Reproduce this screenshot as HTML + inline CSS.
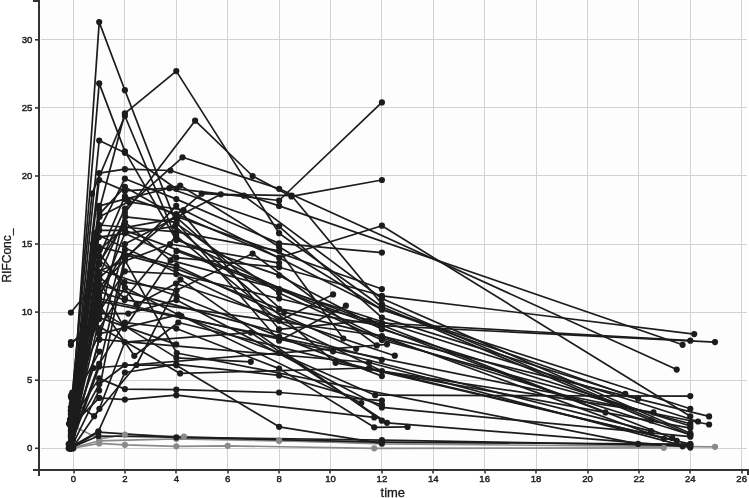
<!DOCTYPE html>
<html><head><meta charset="utf-8"><style>
html,body{margin:0;padding:0;background:#fff;}
svg{display:block;will-change:transform;font-family:"Liberation Sans",sans-serif;}
</style></head><body>
<svg width="749" height="498" viewBox="0 0 749 498">
<rect x="40" y="0" width="707" height="469" fill="#fdfdfd"/>
<g stroke="#d2d2d2" stroke-width="1"><line x1="73.5" y1="0" x2="73.5" y2="469" /><line x1="124.5" y1="0" x2="124.5" y2="469" /><line x1="176.5" y1="0" x2="176.5" y2="469" /><line x1="227.5" y1="0" x2="227.5" y2="469" /><line x1="279.5" y1="0" x2="279.5" y2="469" /><line x1="330.5" y1="0" x2="330.5" y2="469" /><line x1="381.5" y1="0" x2="381.5" y2="469" /><line x1="433.5" y1="0" x2="433.5" y2="469" /><line x1="484.5" y1="0" x2="484.5" y2="469" /><line x1="536.5" y1="0" x2="536.5" y2="469" /><line x1="587.5" y1="0" x2="587.5" y2="469" /><line x1="638.5" y1="0" x2="638.5" y2="469" /><line x1="690.5" y1="0" x2="690.5" y2="469" /><line x1="741.5" y1="0" x2="741.5" y2="469" /><line x1="41" y1="448.5" x2="747" y2="448.5" /><line x1="41" y1="380.5" x2="747" y2="380.5" /><line x1="41" y1="312.5" x2="747" y2="312.5" /><line x1="41" y1="244.5" x2="747" y2="244.5" /><line x1="41" y1="175.5" x2="747" y2="175.5" /><line x1="41" y1="107.5" x2="747" y2="107.5" /><line x1="41" y1="39.5" x2="747" y2="39.5" /></g>
<g fill="none" stroke="#1c1c1c" stroke-width="1.7" stroke-linejoin="round" stroke-linecap="round"><polyline points="69.6,424.3 99.2,438.8 124.9,434.7 184.0,436.5 279.1,440.4 381.9,443.9 715.0,446.8" stroke="#8a8a8a" /><polyline points="70.9,448.3 99.2,443.4 124.9,444.8 176.3,446.3 227.7,445.8 374.2,448.3 663.8,447.8" stroke="#8a8a8a" /><polyline points="70.9,448.3 99.2,440.8 176.3,438.8 279.1,440.8 381.9,442.9" stroke="#8a8a8a" /><polyline points="70.9,432.0 99.2,22.1 124.9,90.2 176.3,223.6 279.1,293.1 381.9,340.0 690.3,423.8" stroke="#1c1c1c" /><polyline points="70.9,414.3 99.2,83.4 124.9,151.4 176.3,240.0 279.1,275.4 381.9,329.2 690.3,426.0" stroke="#1c1c1c" /><polyline points="70.9,437.4 99.2,210.0 124.9,113.3 176.3,71.1 279.1,233.2 381.9,306.7 651.2,420.4" stroke="#1c1c1c" /><polyline points="70.9,441.5 99.2,318.9 124.9,212.7 195.1,120.7 252.6,176.0 291.4,196.4 381.9,180.0" stroke="#1c1c1c" /><polyline points="70.9,422.4 99.2,140.6 124.9,152.8 176.3,188.8 279.1,200.5 381.9,102.4" stroke="#1c1c1c" /><polyline points="70.9,407.4 92.0,193.7 124.9,116.0 176.3,238.6 381.9,338.0 690.3,434.7" stroke="#1c1c1c" /><polyline points="70.9,444.2 99.2,256.3 124.9,196.4 176.3,214.1 279.1,257.7 381.9,225.7 690.3,416.3" stroke="#1c1c1c" /><polyline points="70.9,419.7 99.2,173.2 124.9,169.2 170.4,170.5 279.1,205.9 682.6,344.8" stroke="#1c1c1c" /><polyline points="70.9,434.7 99.2,230.4 124.9,178.7 176.3,199.1 279.1,243.4 381.9,252.6" stroke="#1c1c1c" /><polyline points="70.9,396.6 99.2,298.5 124.9,233.2 176.3,257.7 279.1,267.2 381.9,295.8 694.2,334.1" stroke="#1c1c1c" /><polyline points="70.9,344.8 99.2,312.1 124.9,271.3 176.3,274.0 279.1,298.5 381.9,323.0 690.3,340.7" stroke="#1c1c1c" /><polyline points="70.9,312.5 99.2,278.1 124.9,254.9 176.3,268.6 279.1,308.9 381.9,325.7 715.0,342.1" stroke="#1c1c1c" /><polyline points="70.9,342.1 99.2,328.5 124.9,287.6 181.4,316.2 279.1,353.0 375.2,395.2 690.3,396.1" stroke="#1c1c1c" /><polyline points="70.9,427.9 99.2,264.5 124.9,208.6 182.5,157.3 279.1,188.8 676.7,369.6" stroke="#1c1c1c" /><polyline points="70.9,445.6 99.2,366.6 124.9,257.7 201.7,193.7 243.9,195.7 381.9,298.5 690.3,433.3" stroke="#1c1c1c" /><polyline points="70.9,442.9 99.2,339.4 124.9,244.0 220.8,194.3 291.7,195.7 381.9,304.0 690.3,435.0" stroke="#1c1c1c" /><polyline points="70.9,430.6 99.2,180.0 124.9,190.9 169.4,188.2 279.1,226.3 381.9,317.6 625.3,393.8" stroke="#1c1c1c" /><polyline points="70.9,410.2 99.2,205.9 124.9,199.1 180.2,185.5 279.1,246.8 381.9,309.4 638.1,398.7" stroke="#1c1c1c" /><polyline points="71.1,414.3 99.4,214.1 124.9,186.9 177.2,216.8 381.9,289.0" stroke="#1c1c1c" /><polyline points="70.0,419.7 99.6,216.8 128.6,201.8 183.5,210.0 381.9,309.4 690.3,408.8" stroke="#1c1c1c" /><polyline points="71.1,429.2 98.9,230.4 124.9,230.4 381.9,325.7" stroke="#1c1c1c" /><polyline points="71.5,437.4 99.7,249.5 124.8,227.7 177.3,218.2 284.2,312.1 709.1,416.4" stroke="#1c1c1c" /><polyline points="70.9,411.5 98.8,287.6 176.2,205.9 279.1,329.3 369.1,320.3 672.3,438.0" stroke="#1c1c1c" /><polyline points="73.3,448.3 93.2,254.9 124.5,282.2 176.6,290.3 252.6,253.6 376.8,345.4" stroke="#1c1c1c" /><polyline points="73.0,440.1 99.0,263.1 125.0,222.3 170.6,260.4 279.1,289.0 698.0,421.5" stroke="#1c1c1c" /><polyline points="72.4,434.7 98.9,246.8 176.5,265.8 356.2,348.8" stroke="#1c1c1c" /><polyline points="70.0,448.3 99.3,225.0 176.5,231.8 279.1,250.9 343.3,338.5" stroke="#1c1c1c" /><polyline points="69.0,423.8 98.9,276.7 124.9,298.5 176.2,235.9 279.1,320.8 333.1,294.4" stroke="#1c1c1c" /><polyline points="70.5,448.3 98.9,295.8 125.0,249.5" stroke="#1c1c1c" /><polyline points="71.6,412.9 99.6,274.0 125.3,216.8 176.5,222.3 279.1,340.7 345.9,305.7" stroke="#1c1c1c" /><polyline points="72.5,427.9 93.5,368.0 387.0,344.3" stroke="#1c1c1c" /><polyline points="70.0,448.3 92.9,244.0 136.4,304.5 176.0,283.5 394.8,355.7" stroke="#1c1c1c" /><polyline points="72.1,422.4 98.8,237.2 175.1,226.3 335.6,362.8 690.3,428.1" stroke="#1c1c1c" /><polyline points="72.4,407.4 99.1,279.4 124.4,328.7 176.5,250.9 605.5,412.4" stroke="#1c1c1c" /><polyline points="73.0,433.3 92.2,267.2 176.6,295.8 279.1,336.6 381.9,376.1" stroke="#1c1c1c" /><polyline points="70.9,445.6 98.9,301.2 709.1,424.5" stroke="#1c1c1c" /><polyline points="68.7,444.2 98.7,284.9 381.9,359.8" stroke="#1c1c1c" /><polyline points="71.2,408.8 99.3,291.7 124.6,299.9 381.9,336.0 663.8,438.8" stroke="#1c1c1c" /><polyline points="69.4,448.3 97.9,271.3 170.1,244.0 279.1,263.1" stroke="#1c1c1c" /><polyline points="68.7,448.3 94.5,233.2 381.9,371.0 653.5,412.4" stroke="#1c1c1c" /><polyline points="72.3,392.5 99.2,317.6 176.2,344.4" stroke="#1c1c1c" /><polyline points="71.4,397.9 99.4,313.5 128.3,313.6 176.5,299.9 381.9,407.4 690.3,436.7" stroke="#1c1c1c" /><polyline points="70.4,448.3 98.9,298.5 333.1,351.3 651.0,431.1" stroke="#1c1c1c" /><polyline points="71.0,417.0 99.6,305.3 134.3,355.8 178.3,322.5 369.1,368.8 676.7,440.9" stroke="#1c1c1c" /><polyline points="70.4,448.3 99.2,339.4 369.1,362.5 690.3,447.6" stroke="#1c1c1c" /><polyline points="73.4,425.2 93.1,323.0 180.1,373.4 369.1,368.0 690.3,444.2" stroke="#1c1c1c" /><polyline points="72.4,400.6 94.1,416.2 136.4,365.0 180.4,279.4 381.9,420.7" stroke="#1c1c1c" /><polyline points="72.3,448.3 99.4,408.8 124.7,342.2 250.8,332.6 387.0,422.8 682.6,446.3" stroke="#1c1c1c" /><polyline points="70.8,448.3 99.1,390.4 125.0,260.4 176.8,353.0 638.1,443.9" stroke="#1c1c1c" /><polyline points="71.8,403.4 99.4,351.6" stroke="#1c1c1c" /><polyline points="71.3,395.2 99.1,333.9 178.5,314.6 361.3,403.0" stroke="#1c1c1c" /><polyline points="72.0,441.5 97.8,309.4 176.4,357.9 250.8,361.8" stroke="#1c1c1c" /><polyline points="70.9,448.3 98.4,432.1 176.3,437.4 381.9,442.2 690.3,444.2" stroke="#1c1c1c" /><polyline points="70.9,447.6 98.4,436.0 381.9,440.1 690.3,445.6" stroke="#1c1c1c" /><polyline points="70.9,446.9 98.4,431.3 124.9,372.5 176.3,364.3 279.1,375.4 381.9,404.7" stroke="#1c1c1c" /><polyline points="70.9,436.0 99.2,384.3 124.9,365.0 176.3,365.2 279.1,426.8 381.9,443.3" stroke="#1c1c1c" /><polyline points="70.9,426.5 99.2,397.9 124.9,399.6 176.3,395.2 374.2,417.4" stroke="#1c1c1c" /><polyline points="70.9,421.1 99.2,378.4 124.9,389.1 176.3,389.7 279.1,392.5 381.9,400.6" stroke="#1c1c1c" /><polyline points="70.9,441.5 99.2,363.9 124.9,322.6 176.3,328.5 279.1,368.6 374.2,427.3 407.6,426.9" stroke="#1c1c1c" /></g>
<g><circle cx="69.6" cy="424.3" r="3.1" fill="#8a8a8a" /><circle cx="99.2" cy="438.8" r="3.1" fill="#8a8a8a" /><circle cx="124.9" cy="434.7" r="3.1" fill="#8a8a8a" /><circle cx="184.0" cy="436.5" r="3.1" fill="#8a8a8a" /><circle cx="279.1" cy="440.4" r="3.1" fill="#8a8a8a" /><circle cx="381.9" cy="443.9" r="3.1" fill="#8a8a8a" /><circle cx="715.0" cy="446.8" r="3.1" fill="#8a8a8a" /><circle cx="70.9" cy="448.3" r="3.1" fill="#8a8a8a" /><circle cx="99.2" cy="443.4" r="3.1" fill="#8a8a8a" /><circle cx="124.9" cy="444.8" r="3.1" fill="#8a8a8a" /><circle cx="176.3" cy="446.3" r="3.1" fill="#8a8a8a" /><circle cx="227.7" cy="445.8" r="3.1" fill="#8a8a8a" /><circle cx="374.2" cy="448.3" r="3.1" fill="#8a8a8a" /><circle cx="663.8" cy="447.8" r="3.1" fill="#8a8a8a" /><circle cx="70.9" cy="448.3" r="3.1" fill="#8a8a8a" /><circle cx="99.2" cy="440.8" r="3.1" fill="#8a8a8a" /><circle cx="176.3" cy="438.8" r="3.1" fill="#8a8a8a" /><circle cx="279.1" cy="440.8" r="3.1" fill="#8a8a8a" /><circle cx="381.9" cy="442.9" r="3.1" fill="#8a8a8a" /><circle cx="70.9" cy="432.0" r="3.1" fill="#1c1c1c" /><circle cx="99.2" cy="22.1" r="3.1" fill="#1c1c1c" /><circle cx="124.9" cy="90.2" r="3.1" fill="#1c1c1c" /><circle cx="176.3" cy="223.6" r="3.1" fill="#1c1c1c" /><circle cx="279.1" cy="293.1" r="3.1" fill="#1c1c1c" /><circle cx="381.9" cy="340.0" r="3.1" fill="#1c1c1c" /><circle cx="690.3" cy="423.8" r="3.1" fill="#1c1c1c" /><circle cx="70.9" cy="414.3" r="3.1" fill="#1c1c1c" /><circle cx="99.2" cy="83.4" r="3.1" fill="#1c1c1c" /><circle cx="124.9" cy="151.4" r="3.1" fill="#1c1c1c" /><circle cx="176.3" cy="240.0" r="3.1" fill="#1c1c1c" /><circle cx="279.1" cy="275.4" r="3.1" fill="#1c1c1c" /><circle cx="381.9" cy="329.2" r="3.1" fill="#1c1c1c" /><circle cx="690.3" cy="426.0" r="3.1" fill="#1c1c1c" /><circle cx="70.9" cy="437.4" r="3.1" fill="#1c1c1c" /><circle cx="99.2" cy="210.0" r="3.1" fill="#1c1c1c" /><circle cx="124.9" cy="113.3" r="3.1" fill="#1c1c1c" /><circle cx="176.3" cy="71.1" r="3.1" fill="#1c1c1c" /><circle cx="279.1" cy="233.2" r="3.1" fill="#1c1c1c" /><circle cx="381.9" cy="306.7" r="3.1" fill="#1c1c1c" /><circle cx="651.2" cy="420.4" r="3.1" fill="#1c1c1c" /><circle cx="70.9" cy="441.5" r="3.1" fill="#1c1c1c" /><circle cx="99.2" cy="318.9" r="3.1" fill="#1c1c1c" /><circle cx="124.9" cy="212.7" r="3.1" fill="#1c1c1c" /><circle cx="195.1" cy="120.7" r="3.1" fill="#1c1c1c" /><circle cx="252.6" cy="176.0" r="3.1" fill="#1c1c1c" /><circle cx="291.4" cy="196.4" r="3.1" fill="#1c1c1c" /><circle cx="381.9" cy="180.0" r="3.1" fill="#1c1c1c" /><circle cx="70.9" cy="422.4" r="3.1" fill="#1c1c1c" /><circle cx="99.2" cy="140.6" r="3.1" fill="#1c1c1c" /><circle cx="124.9" cy="152.8" r="3.1" fill="#1c1c1c" /><circle cx="176.3" cy="188.8" r="3.1" fill="#1c1c1c" /><circle cx="279.1" cy="200.5" r="3.1" fill="#1c1c1c" /><circle cx="381.9" cy="102.4" r="3.1" fill="#1c1c1c" /><circle cx="70.9" cy="407.4" r="3.1" fill="#1c1c1c" /><circle cx="92.0" cy="193.7" r="3.1" fill="#1c1c1c" /><circle cx="124.9" cy="116.0" r="3.1" fill="#1c1c1c" /><circle cx="176.3" cy="238.6" r="3.1" fill="#1c1c1c" /><circle cx="381.9" cy="338.0" r="3.1" fill="#1c1c1c" /><circle cx="690.3" cy="434.7" r="3.1" fill="#1c1c1c" /><circle cx="70.9" cy="444.2" r="3.1" fill="#1c1c1c" /><circle cx="99.2" cy="256.3" r="3.1" fill="#1c1c1c" /><circle cx="124.9" cy="196.4" r="3.1" fill="#1c1c1c" /><circle cx="176.3" cy="214.1" r="3.1" fill="#1c1c1c" /><circle cx="279.1" cy="257.7" r="3.1" fill="#1c1c1c" /><circle cx="381.9" cy="225.7" r="3.1" fill="#1c1c1c" /><circle cx="690.3" cy="416.3" r="3.1" fill="#1c1c1c" /><circle cx="70.9" cy="419.7" r="3.1" fill="#1c1c1c" /><circle cx="99.2" cy="173.2" r="3.1" fill="#1c1c1c" /><circle cx="124.9" cy="169.2" r="3.1" fill="#1c1c1c" /><circle cx="170.4" cy="170.5" r="3.1" fill="#1c1c1c" /><circle cx="279.1" cy="205.9" r="3.1" fill="#1c1c1c" /><circle cx="682.6" cy="344.8" r="3.1" fill="#1c1c1c" /><circle cx="70.9" cy="434.7" r="3.1" fill="#1c1c1c" /><circle cx="99.2" cy="230.4" r="3.1" fill="#1c1c1c" /><circle cx="124.9" cy="178.7" r="3.1" fill="#1c1c1c" /><circle cx="176.3" cy="199.1" r="3.1" fill="#1c1c1c" /><circle cx="279.1" cy="243.4" r="3.1" fill="#1c1c1c" /><circle cx="381.9" cy="252.6" r="3.1" fill="#1c1c1c" /><circle cx="70.9" cy="396.6" r="3.1" fill="#1c1c1c" /><circle cx="99.2" cy="298.5" r="3.1" fill="#1c1c1c" /><circle cx="124.9" cy="233.2" r="3.1" fill="#1c1c1c" /><circle cx="176.3" cy="257.7" r="3.1" fill="#1c1c1c" /><circle cx="279.1" cy="267.2" r="3.1" fill="#1c1c1c" /><circle cx="381.9" cy="295.8" r="3.1" fill="#1c1c1c" /><circle cx="694.2" cy="334.1" r="3.1" fill="#1c1c1c" /><circle cx="70.9" cy="344.8" r="3.1" fill="#1c1c1c" /><circle cx="99.2" cy="312.1" r="3.1" fill="#1c1c1c" /><circle cx="124.9" cy="271.3" r="3.1" fill="#1c1c1c" /><circle cx="176.3" cy="274.0" r="3.1" fill="#1c1c1c" /><circle cx="279.1" cy="298.5" r="3.1" fill="#1c1c1c" /><circle cx="381.9" cy="323.0" r="3.1" fill="#1c1c1c" /><circle cx="690.3" cy="340.7" r="3.1" fill="#1c1c1c" /><circle cx="70.9" cy="312.5" r="3.1" fill="#1c1c1c" /><circle cx="99.2" cy="278.1" r="3.1" fill="#1c1c1c" /><circle cx="124.9" cy="254.9" r="3.1" fill="#1c1c1c" /><circle cx="176.3" cy="268.6" r="3.1" fill="#1c1c1c" /><circle cx="279.1" cy="308.9" r="3.1" fill="#1c1c1c" /><circle cx="381.9" cy="325.7" r="3.1" fill="#1c1c1c" /><circle cx="715.0" cy="342.1" r="3.1" fill="#1c1c1c" /><circle cx="70.9" cy="342.1" r="3.1" fill="#1c1c1c" /><circle cx="99.2" cy="328.5" r="3.1" fill="#1c1c1c" /><circle cx="124.9" cy="287.6" r="3.1" fill="#1c1c1c" /><circle cx="181.4" cy="316.2" r="3.1" fill="#1c1c1c" /><circle cx="279.1" cy="353.0" r="3.1" fill="#1c1c1c" /><circle cx="375.2" cy="395.2" r="3.1" fill="#1c1c1c" /><circle cx="690.3" cy="396.1" r="3.1" fill="#1c1c1c" /><circle cx="70.9" cy="427.9" r="3.1" fill="#1c1c1c" /><circle cx="99.2" cy="264.5" r="3.1" fill="#1c1c1c" /><circle cx="124.9" cy="208.6" r="3.1" fill="#1c1c1c" /><circle cx="182.5" cy="157.3" r="3.1" fill="#1c1c1c" /><circle cx="279.1" cy="188.8" r="3.1" fill="#1c1c1c" /><circle cx="676.7" cy="369.6" r="3.1" fill="#1c1c1c" /><circle cx="70.9" cy="445.6" r="3.1" fill="#1c1c1c" /><circle cx="99.2" cy="366.6" r="3.1" fill="#1c1c1c" /><circle cx="124.9" cy="257.7" r="3.1" fill="#1c1c1c" /><circle cx="201.7" cy="193.7" r="3.1" fill="#1c1c1c" /><circle cx="243.9" cy="195.7" r="3.1" fill="#1c1c1c" /><circle cx="381.9" cy="298.5" r="3.1" fill="#1c1c1c" /><circle cx="690.3" cy="433.3" r="3.1" fill="#1c1c1c" /><circle cx="70.9" cy="442.9" r="3.1" fill="#1c1c1c" /><circle cx="99.2" cy="339.4" r="3.1" fill="#1c1c1c" /><circle cx="124.9" cy="244.0" r="3.1" fill="#1c1c1c" /><circle cx="220.8" cy="194.3" r="3.1" fill="#1c1c1c" /><circle cx="291.7" cy="195.7" r="3.1" fill="#1c1c1c" /><circle cx="381.9" cy="304.0" r="3.1" fill="#1c1c1c" /><circle cx="690.3" cy="435.0" r="3.1" fill="#1c1c1c" /><circle cx="70.9" cy="430.6" r="3.1" fill="#1c1c1c" /><circle cx="99.2" cy="180.0" r="3.1" fill="#1c1c1c" /><circle cx="124.9" cy="190.9" r="3.1" fill="#1c1c1c" /><circle cx="169.4" cy="188.2" r="3.1" fill="#1c1c1c" /><circle cx="279.1" cy="226.3" r="3.1" fill="#1c1c1c" /><circle cx="381.9" cy="317.6" r="3.1" fill="#1c1c1c" /><circle cx="625.3" cy="393.8" r="3.1" fill="#1c1c1c" /><circle cx="70.9" cy="410.2" r="3.1" fill="#1c1c1c" /><circle cx="99.2" cy="205.9" r="3.1" fill="#1c1c1c" /><circle cx="124.9" cy="199.1" r="3.1" fill="#1c1c1c" /><circle cx="180.2" cy="185.5" r="3.1" fill="#1c1c1c" /><circle cx="279.1" cy="246.8" r="3.1" fill="#1c1c1c" /><circle cx="381.9" cy="309.4" r="3.1" fill="#1c1c1c" /><circle cx="638.1" cy="398.7" r="3.1" fill="#1c1c1c" /><circle cx="71.1" cy="414.3" r="3.1" fill="#1c1c1c" /><circle cx="99.4" cy="214.1" r="3.1" fill="#1c1c1c" /><circle cx="124.9" cy="186.9" r="3.1" fill="#1c1c1c" /><circle cx="177.2" cy="216.8" r="3.1" fill="#1c1c1c" /><circle cx="381.9" cy="289.0" r="3.1" fill="#1c1c1c" /><circle cx="70.0" cy="419.7" r="3.1" fill="#1c1c1c" /><circle cx="99.6" cy="216.8" r="3.1" fill="#1c1c1c" /><circle cx="128.6" cy="201.8" r="3.1" fill="#1c1c1c" /><circle cx="183.5" cy="210.0" r="3.1" fill="#1c1c1c" /><circle cx="381.9" cy="309.4" r="3.1" fill="#1c1c1c" /><circle cx="690.3" cy="408.8" r="3.1" fill="#1c1c1c" /><circle cx="71.1" cy="429.2" r="3.1" fill="#1c1c1c" /><circle cx="98.9" cy="230.4" r="3.1" fill="#1c1c1c" /><circle cx="124.9" cy="230.4" r="3.1" fill="#1c1c1c" /><circle cx="381.9" cy="325.7" r="3.1" fill="#1c1c1c" /><circle cx="71.5" cy="437.4" r="3.1" fill="#1c1c1c" /><circle cx="99.7" cy="249.5" r="3.1" fill="#1c1c1c" /><circle cx="124.8" cy="227.7" r="3.1" fill="#1c1c1c" /><circle cx="177.3" cy="218.2" r="3.1" fill="#1c1c1c" /><circle cx="284.2" cy="312.1" r="3.1" fill="#1c1c1c" /><circle cx="709.1" cy="416.4" r="3.1" fill="#1c1c1c" /><circle cx="70.9" cy="411.5" r="3.1" fill="#1c1c1c" /><circle cx="98.8" cy="287.6" r="3.1" fill="#1c1c1c" /><circle cx="176.2" cy="205.9" r="3.1" fill="#1c1c1c" /><circle cx="279.1" cy="329.3" r="3.1" fill="#1c1c1c" /><circle cx="369.1" cy="320.3" r="3.1" fill="#1c1c1c" /><circle cx="672.3" cy="438.0" r="3.1" fill="#1c1c1c" /><circle cx="73.3" cy="448.3" r="3.1" fill="#1c1c1c" /><circle cx="93.2" cy="254.9" r="3.1" fill="#1c1c1c" /><circle cx="124.5" cy="282.2" r="3.1" fill="#1c1c1c" /><circle cx="176.6" cy="290.3" r="3.1" fill="#1c1c1c" /><circle cx="252.6" cy="253.6" r="3.1" fill="#1c1c1c" /><circle cx="376.8" cy="345.4" r="3.1" fill="#1c1c1c" /><circle cx="73.0" cy="440.1" r="3.1" fill="#1c1c1c" /><circle cx="99.0" cy="263.1" r="3.1" fill="#1c1c1c" /><circle cx="125.0" cy="222.3" r="3.1" fill="#1c1c1c" /><circle cx="170.6" cy="260.4" r="3.1" fill="#1c1c1c" /><circle cx="279.1" cy="289.0" r="3.1" fill="#1c1c1c" /><circle cx="698.0" cy="421.5" r="3.1" fill="#1c1c1c" /><circle cx="72.4" cy="434.7" r="3.1" fill="#1c1c1c" /><circle cx="98.9" cy="246.8" r="3.1" fill="#1c1c1c" /><circle cx="176.5" cy="265.8" r="3.1" fill="#1c1c1c" /><circle cx="356.2" cy="348.8" r="3.1" fill="#1c1c1c" /><circle cx="70.0" cy="448.3" r="3.1" fill="#1c1c1c" /><circle cx="99.3" cy="225.0" r="3.1" fill="#1c1c1c" /><circle cx="176.5" cy="231.8" r="3.1" fill="#1c1c1c" /><circle cx="279.1" cy="250.9" r="3.1" fill="#1c1c1c" /><circle cx="343.3" cy="338.5" r="3.1" fill="#1c1c1c" /><circle cx="69.0" cy="423.8" r="3.1" fill="#1c1c1c" /><circle cx="98.9" cy="276.7" r="3.1" fill="#1c1c1c" /><circle cx="124.9" cy="298.5" r="3.1" fill="#1c1c1c" /><circle cx="176.2" cy="235.9" r="3.1" fill="#1c1c1c" /><circle cx="279.1" cy="320.8" r="3.1" fill="#1c1c1c" /><circle cx="333.1" cy="294.4" r="3.1" fill="#1c1c1c" /><circle cx="70.5" cy="448.3" r="3.1" fill="#1c1c1c" /><circle cx="98.9" cy="295.8" r="3.1" fill="#1c1c1c" /><circle cx="125.0" cy="249.5" r="3.1" fill="#1c1c1c" /><circle cx="71.6" cy="412.9" r="3.1" fill="#1c1c1c" /><circle cx="99.6" cy="274.0" r="3.1" fill="#1c1c1c" /><circle cx="125.3" cy="216.8" r="3.1" fill="#1c1c1c" /><circle cx="176.5" cy="222.3" r="3.1" fill="#1c1c1c" /><circle cx="279.1" cy="340.7" r="3.1" fill="#1c1c1c" /><circle cx="345.9" cy="305.7" r="3.1" fill="#1c1c1c" /><circle cx="72.5" cy="427.9" r="3.1" fill="#1c1c1c" /><circle cx="93.5" cy="368.0" r="3.1" fill="#1c1c1c" /><circle cx="387.0" cy="344.3" r="3.1" fill="#1c1c1c" /><circle cx="70.0" cy="448.3" r="3.1" fill="#1c1c1c" /><circle cx="92.9" cy="244.0" r="3.1" fill="#1c1c1c" /><circle cx="136.4" cy="304.5" r="3.1" fill="#1c1c1c" /><circle cx="176.0" cy="283.5" r="3.1" fill="#1c1c1c" /><circle cx="394.8" cy="355.7" r="3.1" fill="#1c1c1c" /><circle cx="72.1" cy="422.4" r="3.1" fill="#1c1c1c" /><circle cx="98.8" cy="237.2" r="3.1" fill="#1c1c1c" /><circle cx="175.1" cy="226.3" r="3.1" fill="#1c1c1c" /><circle cx="335.6" cy="362.8" r="3.1" fill="#1c1c1c" /><circle cx="690.3" cy="428.1" r="3.1" fill="#1c1c1c" /><circle cx="72.4" cy="407.4" r="3.1" fill="#1c1c1c" /><circle cx="99.1" cy="279.4" r="3.1" fill="#1c1c1c" /><circle cx="124.4" cy="328.7" r="3.1" fill="#1c1c1c" /><circle cx="176.5" cy="250.9" r="3.1" fill="#1c1c1c" /><circle cx="605.5" cy="412.4" r="3.1" fill="#1c1c1c" /><circle cx="73.0" cy="433.3" r="3.1" fill="#1c1c1c" /><circle cx="92.2" cy="267.2" r="3.1" fill="#1c1c1c" /><circle cx="176.6" cy="295.8" r="3.1" fill="#1c1c1c" /><circle cx="279.1" cy="336.6" r="3.1" fill="#1c1c1c" /><circle cx="381.9" cy="376.1" r="3.1" fill="#1c1c1c" /><circle cx="70.9" cy="445.6" r="3.1" fill="#1c1c1c" /><circle cx="98.9" cy="301.2" r="3.1" fill="#1c1c1c" /><circle cx="709.1" cy="424.5" r="3.1" fill="#1c1c1c" /><circle cx="68.7" cy="444.2" r="3.1" fill="#1c1c1c" /><circle cx="98.7" cy="284.9" r="3.1" fill="#1c1c1c" /><circle cx="381.9" cy="359.8" r="3.1" fill="#1c1c1c" /><circle cx="71.2" cy="408.8" r="3.1" fill="#1c1c1c" /><circle cx="99.3" cy="291.7" r="3.1" fill="#1c1c1c" /><circle cx="124.6" cy="299.9" r="3.1" fill="#1c1c1c" /><circle cx="381.9" cy="336.0" r="3.1" fill="#1c1c1c" /><circle cx="663.8" cy="438.8" r="3.1" fill="#1c1c1c" /><circle cx="69.4" cy="448.3" r="3.1" fill="#1c1c1c" /><circle cx="97.9" cy="271.3" r="3.1" fill="#1c1c1c" /><circle cx="170.1" cy="244.0" r="3.1" fill="#1c1c1c" /><circle cx="279.1" cy="263.1" r="3.1" fill="#1c1c1c" /><circle cx="68.7" cy="448.3" r="3.1" fill="#1c1c1c" /><circle cx="94.5" cy="233.2" r="3.1" fill="#1c1c1c" /><circle cx="381.9" cy="371.0" r="3.1" fill="#1c1c1c" /><circle cx="653.5" cy="412.4" r="3.1" fill="#1c1c1c" /><circle cx="72.3" cy="392.5" r="3.1" fill="#1c1c1c" /><circle cx="99.2" cy="317.6" r="3.1" fill="#1c1c1c" /><circle cx="176.2" cy="344.4" r="3.1" fill="#1c1c1c" /><circle cx="71.4" cy="397.9" r="3.1" fill="#1c1c1c" /><circle cx="99.4" cy="313.5" r="3.1" fill="#1c1c1c" /><circle cx="128.3" cy="313.6" r="3.1" fill="#1c1c1c" /><circle cx="176.5" cy="299.9" r="3.1" fill="#1c1c1c" /><circle cx="381.9" cy="407.4" r="3.1" fill="#1c1c1c" /><circle cx="690.3" cy="436.7" r="3.1" fill="#1c1c1c" /><circle cx="70.4" cy="448.3" r="3.1" fill="#1c1c1c" /><circle cx="98.9" cy="298.5" r="3.1" fill="#1c1c1c" /><circle cx="333.1" cy="351.3" r="3.1" fill="#1c1c1c" /><circle cx="651.0" cy="431.1" r="3.1" fill="#1c1c1c" /><circle cx="71.0" cy="417.0" r="3.1" fill="#1c1c1c" /><circle cx="99.6" cy="305.3" r="3.1" fill="#1c1c1c" /><circle cx="134.3" cy="355.8" r="3.1" fill="#1c1c1c" /><circle cx="178.3" cy="322.5" r="3.1" fill="#1c1c1c" /><circle cx="369.1" cy="368.8" r="3.1" fill="#1c1c1c" /><circle cx="676.7" cy="440.9" r="3.1" fill="#1c1c1c" /><circle cx="70.4" cy="448.3" r="3.1" fill="#1c1c1c" /><circle cx="99.2" cy="339.4" r="3.1" fill="#1c1c1c" /><circle cx="369.1" cy="362.5" r="3.1" fill="#1c1c1c" /><circle cx="690.3" cy="447.6" r="3.1" fill="#1c1c1c" /><circle cx="73.4" cy="425.2" r="3.1" fill="#1c1c1c" /><circle cx="93.1" cy="323.0" r="3.1" fill="#1c1c1c" /><circle cx="180.1" cy="373.4" r="3.1" fill="#1c1c1c" /><circle cx="369.1" cy="368.0" r="3.1" fill="#1c1c1c" /><circle cx="690.3" cy="444.2" r="3.1" fill="#1c1c1c" /><circle cx="72.4" cy="400.6" r="3.1" fill="#1c1c1c" /><circle cx="94.1" cy="416.2" r="3.1" fill="#1c1c1c" /><circle cx="136.4" cy="365.0" r="3.1" fill="#1c1c1c" /><circle cx="180.4" cy="279.4" r="3.1" fill="#1c1c1c" /><circle cx="381.9" cy="420.7" r="3.1" fill="#1c1c1c" /><circle cx="72.3" cy="448.3" r="3.1" fill="#1c1c1c" /><circle cx="99.4" cy="408.8" r="3.1" fill="#1c1c1c" /><circle cx="124.7" cy="342.2" r="3.1" fill="#1c1c1c" /><circle cx="250.8" cy="332.6" r="3.1" fill="#1c1c1c" /><circle cx="387.0" cy="422.8" r="3.1" fill="#1c1c1c" /><circle cx="682.6" cy="446.3" r="3.1" fill="#1c1c1c" /><circle cx="70.8" cy="448.3" r="3.1" fill="#1c1c1c" /><circle cx="99.1" cy="390.4" r="3.1" fill="#1c1c1c" /><circle cx="125.0" cy="260.4" r="3.1" fill="#1c1c1c" /><circle cx="176.8" cy="353.0" r="3.1" fill="#1c1c1c" /><circle cx="638.1" cy="443.9" r="3.1" fill="#1c1c1c" /><circle cx="71.8" cy="403.4" r="3.1" fill="#1c1c1c" /><circle cx="99.4" cy="351.6" r="3.1" fill="#1c1c1c" /><circle cx="71.3" cy="395.2" r="3.1" fill="#1c1c1c" /><circle cx="99.1" cy="333.9" r="3.1" fill="#1c1c1c" /><circle cx="178.5" cy="314.6" r="3.1" fill="#1c1c1c" /><circle cx="361.3" cy="403.0" r="3.1" fill="#1c1c1c" /><circle cx="72.0" cy="441.5" r="3.1" fill="#1c1c1c" /><circle cx="97.8" cy="309.4" r="3.1" fill="#1c1c1c" /><circle cx="176.4" cy="357.9" r="3.1" fill="#1c1c1c" /><circle cx="250.8" cy="361.8" r="3.1" fill="#1c1c1c" /><circle cx="70.9" cy="448.3" r="3.1" fill="#1c1c1c" /><circle cx="98.4" cy="432.1" r="3.1" fill="#1c1c1c" /><circle cx="176.3" cy="437.4" r="3.1" fill="#1c1c1c" /><circle cx="381.9" cy="442.2" r="3.1" fill="#1c1c1c" /><circle cx="690.3" cy="444.2" r="3.1" fill="#1c1c1c" /><circle cx="70.9" cy="447.6" r="3.1" fill="#1c1c1c" /><circle cx="98.4" cy="436.0" r="3.1" fill="#1c1c1c" /><circle cx="381.9" cy="440.1" r="3.1" fill="#1c1c1c" /><circle cx="690.3" cy="445.6" r="3.1" fill="#1c1c1c" /><circle cx="70.9" cy="446.9" r="3.1" fill="#1c1c1c" /><circle cx="98.4" cy="431.3" r="3.1" fill="#1c1c1c" /><circle cx="124.9" cy="372.5" r="3.1" fill="#1c1c1c" /><circle cx="176.3" cy="364.3" r="3.1" fill="#1c1c1c" /><circle cx="279.1" cy="375.4" r="3.1" fill="#1c1c1c" /><circle cx="381.9" cy="404.7" r="3.1" fill="#1c1c1c" /><circle cx="70.9" cy="436.0" r="3.1" fill="#1c1c1c" /><circle cx="99.2" cy="384.3" r="3.1" fill="#1c1c1c" /><circle cx="124.9" cy="365.0" r="3.1" fill="#1c1c1c" /><circle cx="176.3" cy="365.2" r="3.1" fill="#1c1c1c" /><circle cx="279.1" cy="426.8" r="3.1" fill="#1c1c1c" /><circle cx="381.9" cy="443.3" r="3.1" fill="#1c1c1c" /><circle cx="70.9" cy="426.5" r="3.1" fill="#1c1c1c" /><circle cx="99.2" cy="397.9" r="3.1" fill="#1c1c1c" /><circle cx="124.9" cy="399.6" r="3.1" fill="#1c1c1c" /><circle cx="176.3" cy="395.2" r="3.1" fill="#1c1c1c" /><circle cx="374.2" cy="417.4" r="3.1" fill="#1c1c1c" /><circle cx="70.9" cy="421.1" r="3.1" fill="#1c1c1c" /><circle cx="99.2" cy="378.4" r="3.1" fill="#1c1c1c" /><circle cx="124.9" cy="389.1" r="3.1" fill="#1c1c1c" /><circle cx="176.3" cy="389.7" r="3.1" fill="#1c1c1c" /><circle cx="279.1" cy="392.5" r="3.1" fill="#1c1c1c" /><circle cx="381.9" cy="400.6" r="3.1" fill="#1c1c1c" /><circle cx="70.9" cy="441.5" r="3.1" fill="#1c1c1c" /><circle cx="99.2" cy="363.9" r="3.1" fill="#1c1c1c" /><circle cx="124.9" cy="322.6" r="3.1" fill="#1c1c1c" /><circle cx="176.3" cy="328.5" r="3.1" fill="#1c1c1c" /><circle cx="279.1" cy="368.6" r="3.1" fill="#1c1c1c" /><circle cx="374.2" cy="427.3" r="3.1" fill="#1c1c1c" /><circle cx="407.6" cy="426.9" r="3.1" fill="#1c1c1c" /></g>
<g fill="#333" stroke="none">
<rect x="38" y="0" width="2" height="476"/>
<rect x="33" y="0" width="7" height="2"/>
<rect x="33" y="469" width="716" height="2"/>
<rect x="747" y="469" width="2" height="6"/>
<rect x="35" y="447.5" width="4" height="1.6" /><rect x="35" y="379.4" width="4" height="1.6" /><rect x="35" y="311.3" width="4" height="1.6" /><rect x="35" y="243.2" width="4" height="1.6" /><rect x="35" y="175.2" width="4" height="1.6" /><rect x="35" y="107.1" width="4" height="1.6" /><rect x="35" y="39.0" width="4" height="1.6" /><rect x="73.2" y="470" width="1.6" height="3.5" /><rect x="124.2" y="470" width="1.6" height="3.5" /><rect x="175.2" y="470" width="1.6" height="3.5" /><rect x="227.2" y="470" width="1.6" height="3.5" /><rect x="278.2" y="470" width="1.6" height="3.5" /><rect x="329.2" y="470" width="1.6" height="3.5" /><rect x="381.2" y="470" width="1.6" height="3.5" /><rect x="432.2" y="470" width="1.6" height="3.5" /><rect x="484.2" y="470" width="1.6" height="3.5" /><rect x="535.2" y="470" width="1.6" height="3.5" /><rect x="587.2" y="470" width="1.6" height="3.5" /><rect x="638.2" y="470" width="1.6" height="3.5" /><rect x="689.2" y="470" width="1.6" height="3.5" /><rect x="741.2" y="470" width="1.6" height="3.5" />
</g>
<g fill="#222" font-size="9.6" stroke="#222" stroke-width="0.45"><text x="32.3" y="451.3" text-anchor="end">0</text><text x="32.3" y="383.2" text-anchor="end">5</text><text x="32.3" y="315.1" text-anchor="end">10</text><text x="32.3" y="247.0" text-anchor="end">15</text><text x="32.3" y="179.0" text-anchor="end">20</text><text x="32.3" y="110.9" text-anchor="end">25</text><text x="32.3" y="42.8" text-anchor="end">30</text><text x="73.5" y="481.7" text-anchor="middle">0</text><text x="124.9" y="481.7" text-anchor="middle">2</text><text x="176.3" y="481.7" text-anchor="middle">4</text><text x="227.7" y="481.7" text-anchor="middle">6</text><text x="279.1" y="481.7" text-anchor="middle">8</text><text x="330.5" y="481.7" text-anchor="middle">10</text><text x="381.9" y="481.7" text-anchor="middle">12</text><text x="433.3" y="481.7" text-anchor="middle">14</text><text x="484.7" y="481.7" text-anchor="middle">16</text><text x="536.1" y="481.7" text-anchor="middle">18</text><text x="587.5" y="481.7" text-anchor="middle">20</text><text x="638.9" y="481.7" text-anchor="middle">22</text><text x="690.3" y="481.7" text-anchor="middle">24</text><text x="741.7" y="481.7" text-anchor="middle">26</text></g>
<text x="392.8" y="496.6" text-anchor="middle" font-size="13" fill="#1a1a1a" stroke="#1a1a1a" stroke-width="0.3">time</text>
<text transform="translate(10.7,255.6) rotate(-90)" text-anchor="middle" font-size="12" fill="#1a1a1a" stroke="#1a1a1a" stroke-width="0.3">RIFConc_</text>
</svg>
</body></html>
